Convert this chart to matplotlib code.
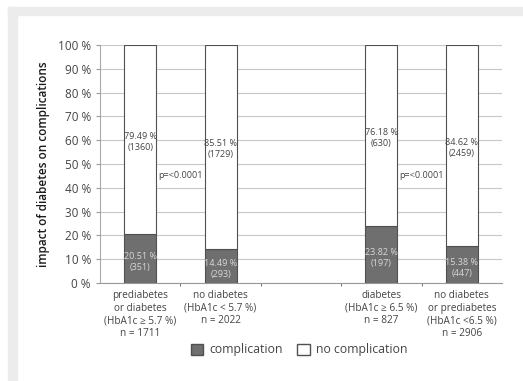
import numpy as np
import matplotlib.pyplot as plt
from matplotlib.patches import Rectangle, Patch

# data
categories = ['prediabetes\nor diabetes\n(HbA1c ≥ 5.7 %)\nn = 1711',
              'no diabetes\n(HbA1c < 5.7 %)\nn = 2022',
              '',
              'diabetes\n(HbA1c ≥ 6.5 %)\nn = 827',
              'no diabetes\nor prediabetes\n(HbA1c <6.5 %)\nn = 2906']
compl_pct = [20.51, 14.49, np.nan, 23.82, 15.38]
compl_n = [351, 293, None, 197, 447]
nocompl_pct = [79.49, 85.51, np.nan, 76.18, 84.62]
nocompl_n = [1360, 1729, None, 630, 2459]
p_labels = ['p=<0.0001', 'p=<0.0001']
p_pos = [0.5, 3.5]
p_y = [45, 45]

plt.rcParams['font.family'] = ['Open Sans', 'DejaVu Sans']
txt = '#444444'

fig = plt.figure(figsize=(5.23, 3.81), dpi=100)
# gray frame
fig.patches.append(Rectangle((8/523, 0), 9/523, 1 - 7/381, transform=fig.transFigure,
                             color='#ececec', zorder=0))
fig.patches.append(Rectangle((8/523, 1 - 15/381), 1, 8/381, transform=fig.transFigure,
                             color='#ececec', zorder=0))

ax = fig.add_axes([100/523, 1 - 283/381, 402/523, 238/381])
x = np.arange(len(categories))
w = 0.4
ax.bar(x, compl_pct, w, color='#6f6f6f', edgecolor='#505050', linewidth=0.8, zorder=3)
ax.bar(x, nocompl_pct, w, bottom=compl_pct, color='white', edgecolor='#505050',
       linewidth=0.8, zorder=3)

for i in range(len(categories)):
    if compl_n[i] is None:
        continue
    ax.text(x[i], compl_pct[i] / 2 - 1.5, f'{compl_pct[i]:.2f} %\n({compl_n[i]})',
            ha='center', va='center', fontsize=6.5, color='#d8d8d8', zorder=4, linespacing=1.25)
    ax.text(x[i], compl_pct[i] + nocompl_pct[i] / 2 - 1, f'{nocompl_pct[i]:.2f} %\n({nocompl_n[i]})',
            ha='center', va='center', fontsize=6.5, color=txt, zorder=4, linespacing=1.25)

for px, py, lab in zip(p_pos, p_y, p_labels):
    ax.text(px, py, lab, ha='center', va='center', fontsize=6.5, color=txt, zorder=4,
            bbox=dict(facecolor='white', edgecolor='none', pad=0.5))

ax.set_xlim(-0.5, 4.5)
ax.set_ylim(0, 100)
ax.set_yticks(np.arange(0, 101, 10))
ax.set_yticklabels([f'{v} %' for v in range(0, 101, 10)], fontsize=8.5, color=txt)
ax.set_xticks(x)
ax.set_xticklabels(categories, fontsize=7.2, color=txt, linespacing=1.2, va='top')
ax.set_xticks([0.5, 1.5, 2.5, 3.5], minor=True)
ax.tick_params(axis='x', which='major', length=0, pad=5)
ax.tick_params(axis='x', which='minor', length=2, color='#555555')
ax.tick_params(axis='y', length=3, color='#999999')
ax.grid(axis='y', color='#c8c8c8', linewidth=0.8, zorder=0)
for s in ['top', 'right']:
    ax.spines[s].set_visible(False)
ax.spines['left'].set_color('#aaaaaa')
ax.spines['bottom'].set_color('#999999')
ax.set_ylabel('impact of diabetes on complications', fontsize=8.5, color='#1a1a1a',
              fontweight='semibold', labelpad=6)

handles = [Patch(facecolor='#6f6f6f', edgecolor='#505050', label='complication'),
           Patch(facecolor='white', edgecolor='#505050', label='no complication')]
fig.legend(handles=handles, loc='center', bbox_to_anchor=(0.572, 0.082), ncol=2,
           frameon=False, fontsize=8.8, handlelength=1.0, handleheight=1.0,
           columnspacing=1.2, handletextpad=0.5, labelcolor=txt)

fig.savefig('out.png', dpi=100)
